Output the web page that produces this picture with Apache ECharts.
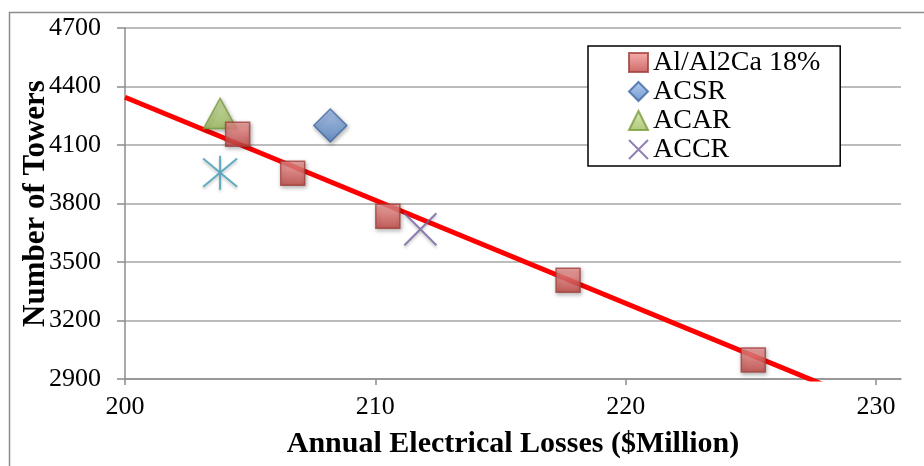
<!DOCTYPE html>
<html>
<head>
<meta charset="utf-8">
<script src="https://cdn.jsdelivr.net/npm/echarts@6/dist/echarts.min.js"></script>
<style>
  html, body { margin: 0; padding: 0; background: #fff; }
  #chart { width: 924px; height: 466px; }
</style>
</head>
<body>
<div id="chart"></div>
<script>
// values
var alAlCa = [[204.5, 4155], [206.7, 3955], [210.5, 3735], [217.7, 3407], [225.1, 2998]]
var acsr = [[208.2, 4200]]
var acar = [[203.8, 4262]]
var accr = [[211.8, 3668]]
var asterisk = [[203.8, 3958]]
var trendLine = [[200, 4345], [230, 2760]]
var xTicks = [200, 210, 220, 230]

var serif = '"Liberation Serif", "Times New Roman", serif'
var xPath = 'path://M0,0L10,10M10,0L0,10'
var starPath = 'path://M0,0L10,10M10,0L0,10M5,-1L5,11'

var chart = echarts.init(document.getElementById('chart'))
chart.setOption({
  animation: false,
  backgroundColor: '#fff',
  graphic: [{
    type: 'rect',
    shape: { x: 9.5, y: 12.5, width: 940, height: 480 },
    style: { fill: 'none', stroke: '#8c8c8c', lineWidth: 1.5 },
    z: -1
  }],
  grid: { left: 125, top: 28, right: 23, bottom: 87 },
  legend: {
    data: ['Al/Al2Ca 18%', 'ACSR', 'ACAR', 'ACCR'],
    orient: 'vertical',
    left: 588,
    top: 46,
    width: 252,
    padding: [2, 20, 2, 40],
    itemGap: 0,
    itemWidth: 19,
    itemHeight: 19,
    borderColor: '#000',
    borderWidth: 1.5,
    backgroundColor: '#fff',
    textStyle: { fontFamily: serif, fontSize: 28, lineHeight: 29, color: '#000' }
  },
  xAxis: {
    type: 'value',
    min: 200,
    max: 231,
    interval: 10,
    name: 'Annual Electrical Losses ($Million)',
    nameLocation: 'middle',
    nameGap: 50,
    nameMoveOverlap: false,
    nameTextStyle: { fontFamily: serif, fontSize: 30, fontWeight: 'bold', color: '#000' },
    axisLine: { lineStyle: { color: '#8c8c8c', width: 1.5 } },
    axisTick: { show: true, length: 6, customValues: xTicks, lineStyle: { color: '#8c8c8c', width: 1.5 } },
    axisLabel: { customValues: xTicks, margin: 15, fontFamily: serif, fontSize: 26, color: '#000', formatter: function (v) { return String(v) } },
    splitLine: { show: false }
  },
  yAxis: {
    type: 'value',
    min: 2900,
    max: 4700,
    interval: 300,
    name: 'Number of Towers',
    nameLocation: 'middle',
    nameGap: 74,
    nameMoveOverlap: false,
    nameTextStyle: { fontFamily: serif, fontSize: 31, fontWeight: 'bold', color: '#000' },
    axisLine: { show: true, lineStyle: { color: '#8c8c8c', width: 1.5 } },
    axisTick: { show: true, length: 8, lineStyle: { color: '#8c8c8c', width: 1.5 } },
    axisLabel: { margin: 24, fontFamily: serif, fontSize: 26, color: '#000', formatter: function (v) { return String(v) } },
    splitLine: { lineStyle: { color: '#a6a6a6', width: 1.5 } }
  },
  series: [
    {
      name: 'trend',
      type: 'line',
      data: trendLine,
      symbol: 'none',
      lineStyle: { color: '#ff0000', width: 5 },
      z: 1
    },
    {
      name: 'Al/Al2Ca 18%',
      type: 'scatter',
      data: alAlCa,
      symbol: 'rect',
      symbolSize: 24,
      itemStyle: {
        color: new echarts.graphic.LinearGradient(0, 0, 0, 1, [
          { offset: 0, color: '#f59c9a' },
          { offset: 1, color: '#c0433f' }
        ]),
        borderColor: '#a0403d',
        borderWidth: 1.5,
        shadowBlur: 4,
        shadowColor: 'rgba(0,0,0,0.35)',
        shadowOffsetX: 1,
        shadowOffsetY: 2
      },
      z: 3
    },
    {
      name: 'ACSR',
      type: 'scatter',
      data: acsr,
      symbol: 'diamond',
      symbolSize: [33, 33],
      itemStyle: {
        color: new echarts.graphic.LinearGradient(0, 0, 0, 1, [
          { offset: 0, color: '#a3bff0' },
          { offset: 1, color: '#4f81bd' }
        ]),
        borderColor: '#3e66a3',
        borderWidth: 1.5,
        shadowBlur: 4,
        shadowColor: 'rgba(0,0,0,0.35)',
        shadowOffsetX: 1,
        shadowOffsetY: 2
      },
      z: 3
    },
    {
      name: 'ACAR',
      type: 'scatter',
      data: acar,
      symbol: 'triangle',
      symbolSize: [33, 30],
      itemStyle: {
        color: new echarts.graphic.LinearGradient(0, 0, 0, 1, [
          { offset: 0, color: '#cde5a0' },
          { offset: 1, color: '#9bbb59' }
        ]),
        borderColor: '#789a3a',
        borderWidth: 1.5,
        shadowBlur: 4,
        shadowColor: 'rgba(0,0,0,0.35)',
        shadowOffsetX: 1,
        shadowOffsetY: 2
      },
      z: 2
    },
    {
      name: 'ACCR',
      type: 'scatter',
      data: accr,
      symbol: xPath,
      symbolSize: 32,
      itemStyle: {
        color: 'rgba(0,0,0,0)',
        borderColor: '#7560a0',
        borderWidth: 2,
        shadowBlur: 3,
        shadowColor: 'rgba(0,0,0,0.3)',
        shadowOffsetY: 2
      },
      z: 3
    },
    {
      name: 'other',
      type: 'scatter',
      data: asterisk,
      symbol: starPath,
      symbolSize: 34,
      itemStyle: {
        color: 'rgba(0,0,0,0)',
        borderColor: '#3f9cb5',
        borderWidth: 2,
        shadowBlur: 3,
        shadowColor: 'rgba(0,0,0,0.3)',
        shadowOffsetY: 2
      },
      z: 3
    }
  ]
})
</script>
</body>
</html>
